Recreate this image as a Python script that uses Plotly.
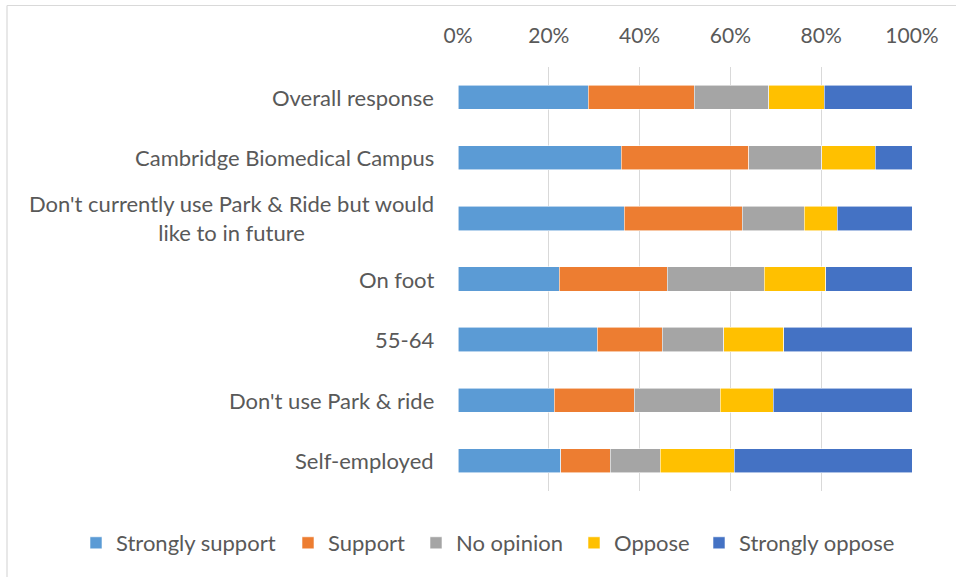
import plotly.graph_objects as go

# Respondent groups, top to bottom
groups = [
    "Overall response",
    "Cambridge Biomedical Campus",
    "Don't currently use Park & Ride but would<br>like to in future",
    "On foot",
    "55-64",
    "Don't use Park & ride",
    "Self-employed",
]

# Share of responses (%) for each level of support
strongly_support = [28.7, 36.0, 36.6, 22.3, 30.7, 21.2, 22.6]
support = [23.3, 28.0, 26.0, 23.8, 14.3, 17.6, 10.9]
no_opinion = [16.5, 16.1, 13.7, 21.3, 13.5, 19.0, 11.0]
oppose = [12.2, 11.8, 7.2, 13.6, 13.3, 11.6, 16.3]
strongly_oppose = [19.3, 8.1, 16.5, 19.0, 28.2, 30.6, 39.2]

series = [
    ("Strongly support", strongly_support, "#5B9BD5"),
    ("Support", support, "#ED7D31"),
    ("No opinion", no_opinion, "#A5A5A5"),
    ("Oppose", oppose, "#FFC000"),
    ("Strongly oppose", strongly_oppose, "#4472C4"),
]

x_ticks = [0, 20, 40, 60, 80, 100]
x_tick_labels = ["0%", "20%", "40%", "60%", "80%", "100%"]

W, H = 956, 577
ML, MR, MT, MB = 458, 44, 67, 86
FONT = "Lato, 'Open Sans', sans-serif"
TEXT_GREY = "#595959"
GRID_GREY = "#D9D9D9"

# Legend entries sit in one row below the chart; each entry gets its own
# legend box so the row keeps its spacing instead of wrapping.
legend_left_px = [76, 288, 416, 574, 699]
legend_mid_px = 543

fig = go.Figure()
legend_layout = {}
for i, (name, vals, color) in enumerate(series):
    key = "legend" if i == 0 else f"legend{i + 1}"
    fig.add_trace(go.Bar(
        y=groups,
        x=vals,
        name=name,
        orientation="h",
        legend=key,
        marker=dict(color=color, line=dict(color="rgba(255,255,255,0.8)", width=0.7)),
    ))
    legend_layout[key] = dict(
        orientation="h",
        xref="container", yref="container",
        x=legend_left_px[i] / W, y=1 - legend_mid_px / H,
        xanchor="left", yanchor="middle",
        font=dict(family=FONT, size=22, color=TEXT_GREY),
        itemwidth=30,
        bgcolor="rgba(0,0,0,0)",
        borderwidth=0,
    )

# Category labels, drawn as centred multi-line text to the left of the axis
for g in groups:
    fig.add_annotation(
        x=0, xref="paper", y=g, yref="y",
        text=g, showarrow=False,
        xanchor="right", yanchor="middle", align="center",
        xshift=-22,
        font=dict(family=FONT, size=22, color=TEXT_GREY),
    )

# Pixel -> paper helpers for the outer chart frame
pw = W - ML - MR
ph = H - MT - MB
def px_x(px):
    return (px - ML) / pw
def px_y(py):
    return (H - MB - py) / ph

frame_color = "#D9D9D9"
fig.add_shape(type="line", xref="paper", yref="paper",
              x0=px_x(7), x1=px_x(W + 5), y0=px_y(5.5), y1=px_y(5.5),
              line=dict(color=frame_color, width=1.2))
fig.add_shape(type="line", xref="paper", yref="paper",
              x0=px_x(7), x1=px_x(7), y0=px_y(5.5), y1=px_y(H + 5),
              line=dict(color=frame_color, width=1.2))

fig.update_layout(
    width=W, height=H,
    margin=dict(l=ML, r=MR, t=MT, b=MB, autoexpand=False),
    barmode="stack",
    bargap=0.6,
    plot_bgcolor="white",
    paper_bgcolor="white",
    font=dict(family=FONT, size=22, color=TEXT_GREY),
    showlegend=True,
    xaxis=dict(
        side="top",
        range=[0, 100],
        tickvals=x_ticks,
        ticktext=x_tick_labels,
        showgrid=True,
        gridcolor=GRID_GREY,
        gridwidth=1.4,
        zeroline=False,
        showline=False,
        ticks="",
        ticklabelstandoff=19,
        tickfont=dict(family=FONT, size=21, color=TEXT_GREY),
        fixedrange=True,
    ),
    yaxis=dict(
        categoryorder="array",
        categoryarray=groups,
        autorange="reversed",
        showticklabels=False,
        showgrid=False,
        zeroline=False,
        showline=False,
        ticks="",
        fixedrange=True,
    ),
    **legend_layout,
)

fig.write_html("out.html")
